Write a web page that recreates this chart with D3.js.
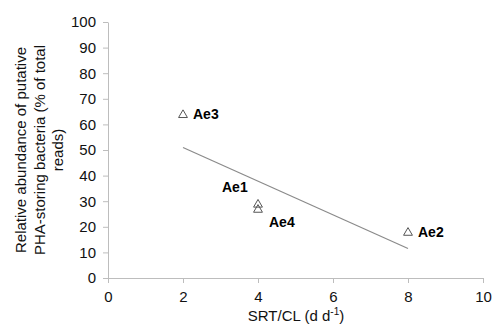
<!DOCTYPE html>
<html lang="en">
<head>
<meta charset="UTF-8">
<title>PHA-storing bacteria vs SRT/CL</title>
<style>
  body { margin: 0; background: #fff; }
  svg { display: block; font-family: "Liberation Sans", Arial, sans-serif; }
  .axis path, .axis line { stroke: #bdbdbd; }
  .axis text { font-size: 15px; fill: #111; }
</style>
</head>
<body>
<svg class="chart"></svg>
<script src="https://cdn.jsdelivr.net/npm/d3@7"></script>
<script>
  // data
  const samples = ['Ae1', 'Ae2', 'Ae3', 'Ae4'];
  const srtCl = [4, 8, 2, 4];
  const abundance = [29, 18, 64, 27];
  // label offsets (px) relative to each marker
  const labelDx = [-36, 10, 10, 11];
  const labelDy = [-12, 5, 5, 18];
  // linear trendline end points
  const trendX = [2, 8];
  const trendY = [51, 11.5];
  const xTicks = [0, 2, 4, 6, 8, 10];
  const yTicks = [0, 10, 20, 30, 40, 50, 60, 70, 80, 90, 100];

  const width = 493, height = 328;
  const margin = { top: 22, right: 10, bottom: 50, left: 108 };

  const svg = d3.select('.chart')
    .attr('width', width)
    .attr('height', height);

  const x = d3.scaleLinear().domain([0, 10]).range([margin.left, 483]);
  const y = d3.scaleLinear().domain([0, 100]).range([height - margin.bottom, margin.top]);

  // axes
  svg.append('g')
    .attr('class', 'axis')
    .attr('transform', `translate(0,${y(0)})`)
    .call(d3.axisBottom(x).tickValues(xTicks).tickSize(5).tickPadding(8).tickSizeOuter(0))
    .call(g => g.selectAll('text').attr('dy', '0.71em'));

  svg.append('g')
    .attr('class', 'axis')
    .attr('transform', `translate(${x(0)},0)`)
    .call(d3.axisLeft(y).tickValues(yTicks).tickSize(5).tickPadding(7).tickSizeOuter(0));

  // trendline
  svg.append('line')
    .attr('x1', x(trendX[0])).attr('y1', y(trendY[0]))
    .attr('x2', x(trendX[1])).attr('y2', y(trendY[1]))
    .attr('stroke', '#8a8a8a')
    .attr('stroke-width', 1.2);

  // points
  const tri = d3.symbol().type(d3.symbolTriangle).size(34);
  const pts = samples.map((s, i) => ({ s, x: srtCl[i], y: abundance[i], dx: labelDx[i], dy: labelDy[i] }));

  svg.selectAll('.pt')
    .data(pts)
    .enter().append('path')
    .attr('class', 'pt')
    .attr('d', tri)
    .attr('transform', d => `translate(${x(d.x)},${y(d.y) + 0.8})`)
    .attr('fill', 'none')
    .attr('stroke', '#555')
    .attr('stroke-width', 1);

  svg.selectAll('.lbl')
    .data(pts)
    .enter().append('text')
    .attr('class', 'lbl')
    .attr('x', d => x(d.x) + d.dx)
    .attr('y', d => y(d.y) + d.dy)
    .style('font-size', '14px')
    .style('font-weight', 'bold')
    .text(d => d.s);

  // x axis label
  const xl = svg.append('text')
    .attr('x', 296)
    .attr('y', 321)
    .style('text-anchor', 'middle')
    .style('font-size', '15px')
    .attr('fill', '#111');
  xl.append('tspan').text('SRT/CL (d d');
  xl.append('tspan').attr('dy', -6).style('font-size', '10px').text('-1');
  xl.append('tspan').attr('dy', 6).text(')');

  // y axis label
  const yLines = ['Relative abundance of putative', 'PHA-storing bacteria (% of total', 'reads)'];
  svg.append('g')
    .attr('transform', 'translate(0,150) rotate(-90)')
    .selectAll('text')
    .data(yLines)
    .enter().append('text')
    .attr('x', 0)
    .attr('y', (d, i) => 26 + i * 18.5)
    .style('text-anchor', 'middle')
    .style('font-size', '15px')
    .attr('fill', '#111')
    .text(d => d);
</script>
</body>
</html>
